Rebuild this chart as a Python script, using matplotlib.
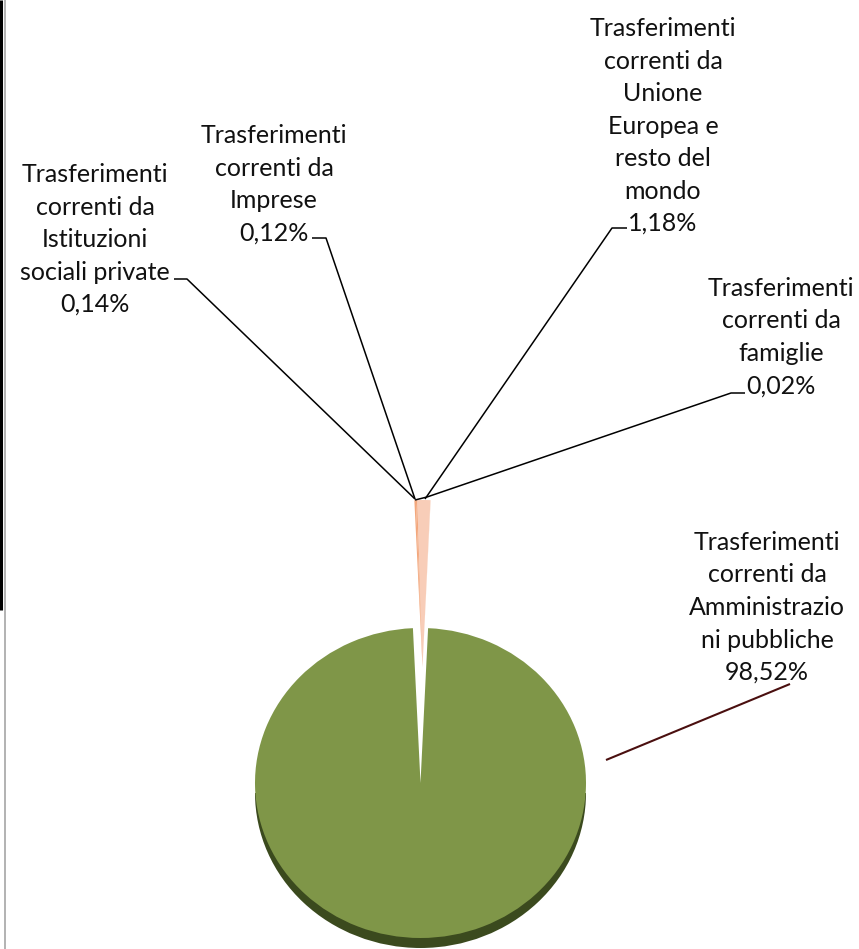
import matplotlib
matplotlib.use("Agg")
import matplotlib.pyplot as plt

# values, counterclockwise from the big slice
categorie = [
    "Trasferimenti\ncorrenti da\nAmministrazio\nni pubbliche",
    "Trasferimenti\ncorrenti da\nfamiglie",
    "Trasferimenti\ncorrenti da\nUnione\nEuropea e\nresto del\nmondo",
    "Trasferimenti\ncorrenti da\nImprese",
    "Trasferimenti\ncorrenti da\nIstituzioni\nsociali private",
]
valori = [98.52, 0.02, 1.18, 0.12, 0.14]
etichette_pct = ["98,52%", "0,02%", "1,18%", "0,12%", "0,14%"]

# label layout, in pixels of the picture (centre x, top y)
label_x = [767, 781, 663, 274, 95]
label_y = [531, 277, 17, 124, 163]
# leader lines, in pixels
leader_x = [[606, 790], [415, 427, 731, 745], [425, 612, 627], [415, 326, 312], [415, 187, 174]]
leader_y = [[760, 684], [500, 497, 393, 393], [499, 228, 228], [499, 238, 238], [499, 279, 279]]
leader_col = ["#4a0f0f", "black", "black", "black", "black"]
leader_lw = [1.5, 1.1, 1.1, 1.1, 1.1]

verde = "#7f9648"
verde_scuro = "#3b4a1e"
pesche = ["#f8cdb8", "#f8cdb8", "#f3a77c", "#f3a77c"]

W, H = 859, 949
cx, cy, rx, ry = 420.5, 783, 165.5, 155
depth = 10

plt.rcParams["font.family"] = ["Lato", "DejaVu Sans"]
fig = plt.figure(figsize=(W / 100, H / 100), dpi=100, facecolor="white")

ax = fig.add_axes([0, 0, 1, 1])
start = 270 - valori[0] / sum(valori) * 360 / 2

# thickness of the pie, bottom half only
ax.pie([1, 1], colors=["none", verde_scuro], startangle=0,
       center=(0, -depth / ry), wedgeprops={"linewidth": 0})

# big slice
ax.pie(valori, colors=[verde, "none", "none", "none", "none"], startangle=start,
       wedgeprops={"linewidth": 0})

# small slices pulled out at the top
ax.pie(valori, colors=["none"] + pesche, startangle=start,
       center=(2 / rx, (cy - 667) / ry), radius=167 / ry, wedgeprops={"linewidth": 0})

ax.set_aspect("auto")
ax.set_xlim(-cx / rx, (W - cx) / rx)
ax.set_ylim(-(H - cy) / ry, cy / ry)
ax.axis("off")

# overlay in picture pixels for labels and leaders
ov = fig.add_axes([0, 0, 1, 1], facecolor="none")
ov.set_xlim(0, W)
ov.set_ylim(H, 0)
ov.axis("off")

for i in range(len(categorie)):
    ov.plot(leader_x[i], leader_y[i], color=leader_col[i], lw=leader_lw[i], solid_capstyle="butt")
    ov.text(label_x[i], label_y[i], categorie[i] + "\n" + etichette_pct[i],
            ha="center", va="top", fontsize=18, color="#111111", linespacing=1.5)

# page edges at the left of the screenshot
ov.plot([1, 1], [0, 610], color="black", lw=2.2, solid_capstyle="butt")
ov.plot([4.5, 4.5], [0, H], color="#a6a6a6", lw=1.2, solid_capstyle="butt")

fig.savefig("out.png", dpi=100)
